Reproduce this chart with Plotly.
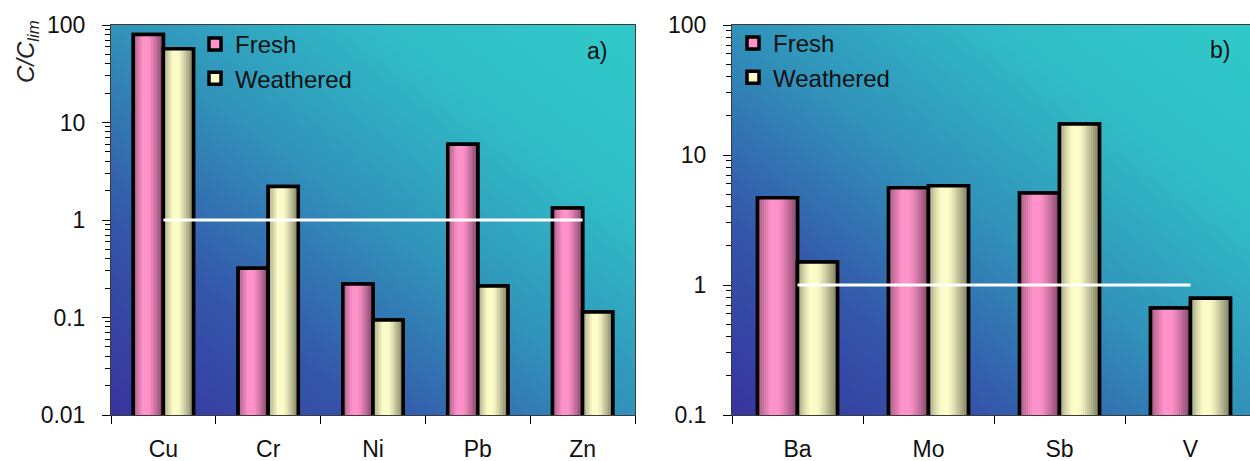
import base64
import plotly.graph_objects as go

# ---------------- data ----------------
CATS_A = ["Cu", "Cr", "Ni", "Pb", "Zn"]
FRESH_A = [80, 0.32, 0.22, 6.0, 1.33]
WEATH_A = [57, 2.2, 0.094, 0.21, 0.114]

CATS_B = ["Ba", "Mo", "Sb", "V"]
FRESH_B = [4.7, 5.6, 5.1, 0.665]
WEATH_B = [1.5, 5.8, 17.3, 0.79]

LIMIT = 1
SERIES = ["Fresh", "Weathered"]
Y_TICKS_A = [0.01, 0.1, 1, 10, 100]
Y_TICKS_B = [0.1, 1, 10, 100]

# ---------------- styles ----------------
W, H = 1250, 461
FONT = "Liberation Sans, Arial, sans-serif"
FS = 23
PEAK = {"Fresh": (255, 146, 202), "Weathered": (252, 252, 200)}
DARK = {"Fresh": (100, 52, 80), "Weathered": (100, 100, 78)}
NSLICE = 20

def px_x(p):
    return p / W

def px_y(p):
    return (H - p) / H

def shade(series, t):
    if t < 0.32:
        w = 0.45 + 0.55 * (t / 0.32)
    elif t < 0.5:
        w = 1.0
    else:
        w = 1.0 - 0.85 * ((t - 0.5) / 0.5) ** 1.2
    p, d = PEAK[series], DARK[series]
    c = [round(d[i] + (p[i] - d[i]) * w) for i in range(3)]
    return "rgb(%d,%d,%d)" % tuple(c)

svg = ("<svg xmlns='http://www.w3.org/2000/svg' width='200' height='200' viewBox='0 0 200 200' "
       "preserveAspectRatio='none'><defs><linearGradient id='g' x1='0' y1='1' x2='1' y2='0'>"
       "<stop offset='0' stop-color='#38349e'/><stop offset='0.25' stop-color='#3456aa'/>"
       "<stop offset='0.5' stop-color='#3192ba'/><stop offset='0.75' stop-color='#30bcc6'/>"
       "<stop offset='1' stop-color='#30cac9'/></linearGradient></defs>"
       "<rect width='200' height='200' fill='url(#g)'/></svg>")
BG = "data:image/svg+xml;base64," + base64.b64encode(svg.encode()).decode()

fig = go.Figure()

def add_panel(cats, fresh, weath, xa, ya, legend, bw):
    for k, (name, vals) in enumerate(zip(SERIES, [fresh, weath])):
        off = -bw if k == 0 else 0.0
        # base bar (legend entry)
        fig.add_trace(go.Bar(x=cats, y=vals, name=name, xaxis=xa, yaxis=ya,
                             offset=off, width=bw, legend=legend,
                             marker=dict(color="rgb(%d,%d,%d)" % PEAK[name],
                                         line=dict(color="black", width=3.5)),
                             hoverinfo="skip"))
        # cylindrical shading slices
        sw = bw / NSLICE
        for i in range(NSLICE):
            t = (i + 0.5) / NSLICE
            fig.add_trace(go.Bar(x=cats, y=vals, xaxis=xa, yaxis=ya, showlegend=False,
                                 offset=off + i * sw, width=sw * 1.02,
                                 marker=dict(color=shade(name, t), line=dict(width=0)),
                                 hoverinfo="skip"))
        # outline
        fig.add_trace(go.Bar(x=cats, y=vals, xaxis=xa, yaxis=ya, showlegend=False,
                             offset=off, width=bw,
                             marker=dict(color="rgba(0,0,0,0)",
                                         line=dict(color="black", width=3.5)),
                             hoverinfo="skip"))
    # limit line
    fig.add_trace(go.Scatter(x=[cats[0], cats[-1]], y=[LIMIT, LIMIT], mode="lines",
                             xaxis=xa, yaxis=ya, showlegend=False,
                             line=dict(color="white", width=3), hoverinfo="skip"))

add_panel(CATS_A, FRESH_A, WEATH_A, "x", "y", "legend", 0.287)
add_panel(CATS_B, FRESH_B, WEATH_B, "x2", "y2", "legend2", 0.305)

YDOM = [px_y(415), px_y(25)]

def minor_vals(lo, hi):
    out = []
    for e in range(lo, hi):
        for m in range(2, 10):
            out.append(m * 10 ** e)
    return out

common_x = dict(type="category", showgrid=False, ticks="outside", ticklen=8,
                tickcolor="black", tickwidth=1, tickson="boundaries",
                showline=True, linecolor="#3a3a3a", linewidth=1, mirror=True,
                tickfont=dict(family=FONT, size=FS, color="#111"),
                ticklabelstandoff=13, fixedrange=True, automargin=False)
common_y = dict(type="log", showgrid=False, ticks="outside", ticklen=8,
                tickcolor="black", tickwidth=1, showline=True,
                linecolor="#3a3a3a", linewidth=1, mirror=True, zeroline=False,
                tickfont=dict(family=FONT, size=FS, color="#111"),
                ticklabelstandoff=12, fixedrange=True, automargin=False)

leg_font = dict(family=FONT, size=24, color="#111")

fig.update_layout(
    width=W, height=H, autosize=False,
    margin=dict(l=0, r=0, t=0, b=0, autoexpand=False),
    paper_bgcolor="white", plot_bgcolor="white",
    barmode="overlay", bargap=0,
    showlegend=True,
    xaxis=dict(common_x, domain=[px_x(111), px_x(635)], anchor="y",
               range=[-0.5, len(CATS_A) - 0.5]),
    yaxis=dict(common_y, domain=YDOM, anchor="x", range=[-2, 2],
               tickvals=Y_TICKS_A, ticktext=[f"{v:g}" for v in Y_TICKS_A],
               minor=dict(ticks="outside", ticklen=5, tickcolor="black",
                          tickvals=minor_vals(-2, 2))),
    xaxis2=dict(common_x, domain=[px_x(732), 1.0], anchor="y2",
                range=[-0.5, -0.5 + (W - 732) / 131.0]),
    yaxis2=dict(common_y, domain=YDOM, anchor="x2", range=[-1, 2],
                tickvals=Y_TICKS_B, ticktext=[f"{v:g}" for v in Y_TICKS_B],
                minor=dict(ticks="outside", ticklen=5, tickcolor="black",
                           tickvals=minor_vals(-1, 2))),
    legend=dict(x=px_x(195), y=px_y(22), xanchor="left", yanchor="top",
                bgcolor="rgba(0,0,0,0)", borderwidth=0, font=leg_font,
                tracegroupgap=0, itemwidth=30),
    legend2=dict(x=px_x(733), y=px_y(21), xanchor="left", yanchor="top",
                 bgcolor="rgba(0,0,0,0)", borderwidth=0, font=leg_font,
                 tracegroupgap=0, itemwidth=30),
    images=[
        dict(source=BG, xref="x domain", yref="y domain", x=0, y=1, sizex=1, sizey=1,
             xanchor="left", yanchor="top", sizing="stretch", layer="below"),
        dict(source=BG, xref="x2 domain", yref="y2 domain", x=0, y=1, sizex=1, sizey=1,
             xanchor="left", yanchor="top", sizing="stretch", layer="below"),
    ],
    annotations=[
        dict(text="<i>C/C<sub>lim</sub></i>", x=px_x(27), y=px_y(52), xref="paper",
             yref="paper", textangle=-90, showarrow=False,
             xanchor="center", yanchor="middle",
             font=dict(family=FONT, size=24, color="#222")),
        dict(text="a)", x=px_x(597), y=px_y(51), xref="paper", yref="paper",
             xanchor="center", yanchor="middle",
             showarrow=False, font=dict(family=FONT, size=FS, color="#111")),
        dict(text="b)", x=px_x(1220), y=px_y(50), xref="paper", yref="paper",
             xanchor="center", yanchor="middle",
             showarrow=False, font=dict(family=FONT, size=FS, color="#111")),
    ],
)

fig.write_html("out.html", config={"displayModeBar": False, "staticPlot": True},
               post_script="document.body.style.margin='0';document.body.style.overflow='hidden';")
